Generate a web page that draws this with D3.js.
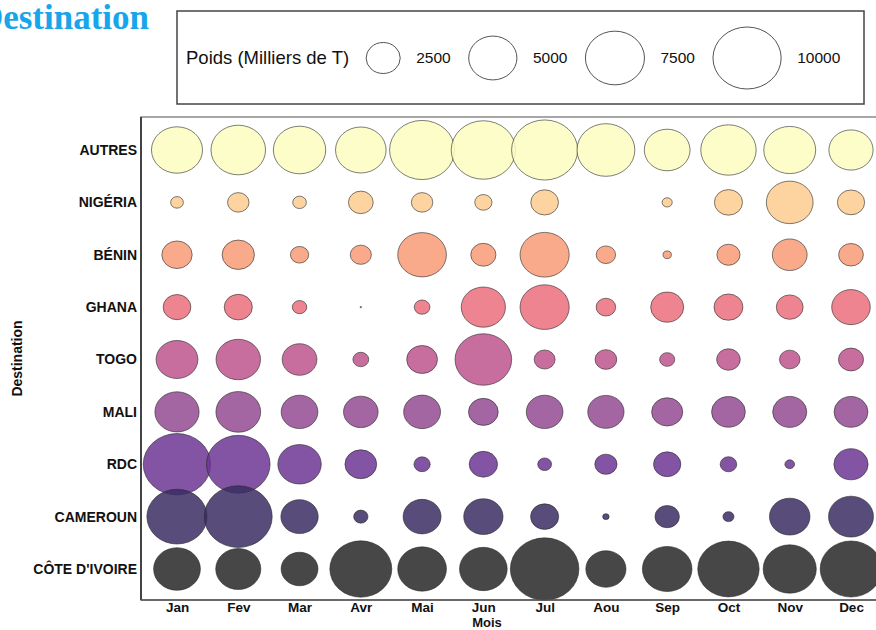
<!DOCTYPE html>
<html>
<head>
<meta charset="utf-8">
<script src="https://cdn.jsdelivr.net/npm/d3@7/dist/d3.min.js"></script>
<style>
  html, body { margin: 0; padding: 0; background: #fff; }
  svg { display: block; }
</style>
</head>
<body>
<div id="chart"></div>
<script>
// Monthly shipments (thousands of tonnes) by destination
const months = ["Jan", "Fev", "Mar", "Avr", "Mai", "Jun", "Jul", "Aou", "Sep", "Oct", "Nov", "Dec"];
const destinations = ["AUTRES", "NIGÉRIA", "BÉNIN", "GHANA", "TOGO", "MALI", "RDC", "CAMEROUN", "CÔTE D'IVOIRE"];

const autres   = [5600, 6400, 5900, 5500, 9100, 8900, 9400, 7200, 4500, 6600, 5800, 4200];
const nigeria  = [350, 990, 400, 1320, 990, 640, 1650, 0, 220, 1700, 4700, 1600];
const benin    = [1980, 2250, 720, 960, 5100, 1360, 5200, 810, 150, 1150, 2600, 1320];
const ghana    = [1650, 1700, 450, 5, 530, 4200, 5200, 820, 2350, 1800, 1550, 3200];
const togo     = [3760, 4260, 2600, 540, 2040, 6900, 940, 1010, 490, 1200, 910, 1360];
const mali     = [4200, 4300, 2900, 2570, 2920, 1900, 2890, 2830, 2080, 2450, 2500, 2470];
const rdc      = [9800, 8700, 4060, 2170, 570, 1730, 410, 1060, 1600, 590, 200, 2520];
const cameroun = [7800, 9900, 3000, 440, 3100, 3320, 1700, 90, 1280, 260, 3530, 4340];
const civ      = [4700, 4370, 2920, 8250, 5100, 4880, 10100, 3470, 5290, 8100, 6070, 8160];

const seriesByDest = [autres, nigeria, benin, ghana, togo, mali, rdc, cameroun, civ];

// One colour per destination (magma-like ramp)
const destColors = ["#fcfdbf", "#fdcb8f", "#f89b76", "#ec6f7e", "#be558e", "#934b93", "#6c3693", "#3a2d63", "#272727"];

const legendValues = [2500, 5000, 7500, 10000];
const legendTitle = "Poids (Milliers de T)";

const W = 876, H = 630;
const svg = d3.select("#chart").append("svg")
  .attr("width", W).attr("height", H)
  .attr("font-family", "Liberation Sans, Arial, sans-serif");

svg.append("rect").attr("width", W).attr("height", H).attr("fill", "#fff");

// Panel geometry
const panel = { left: 141, top: 117, right: 880, bottom: 600 };

const x = d3.scalePoint().domain(months).range([177, 851]);
const y = d3.scalePoint().domain(destinations).range([150, 569]);
const r = d3.scaleSqrt().domain([0, 10000]).range([0, 31]);
const stretch = 1.1; // horizontal aspect of the bubbles
const color = d3.scaleOrdinal().domain(destinations).range(destColors);

// Flatten into records
const records = [];
destinations.forEach((dest, i) => {
  seriesByDest[i].forEach((v, j) => {
    records.push({ dest, month: months[j], value: v });
  });
});

// Title
svg.append("text")
  .attr("x", 149).attr("y", 29)
  .attr("text-anchor", "end")
  .attr("font-family", "Liberation Serif, Times New Roman, serif")
  .attr("font-weight", "bold")
  .attr("font-size", 35)
  .attr("fill", "#17a6ea")
  .text("Destination");

// Panel frame
svg.append("rect")
  .attr("x", panel.left).attr("y", panel.top)
  .attr("width", panel.right - panel.left).attr("height", panel.bottom - panel.top)
  .attr("fill", "none").attr("stroke", "#8a8a8a").attr("stroke-width", 1.5);

// Bubbles
svg.append("g").selectAll("ellipse")
  .data(records.filter(d => d.value > 0))
  .join("ellipse")
  .attr("cx", d => x(d.month))
  .attr("cy", d => y(d.dest))
  .attr("rx", d => r(d.value) * stretch)
  .attr("ry", d => r(d.value))
  .attr("fill", d => color(d.dest))
  .attr("fill-opacity", 0.85)
  .attr("stroke", "#2a2a2a")
  .attr("stroke-opacity", 0.6)
  .attr("stroke-width", 1);

// Axis lines (left and bottom)
svg.append("line")
  .attr("x1", panel.left).attr("x2", panel.left)
  .attr("y1", panel.top).attr("y2", panel.bottom)
  .attr("stroke", "#222").attr("stroke-width", 1.5);
svg.append("line")
  .attr("x1", panel.left).attr("x2", panel.right)
  .attr("y1", panel.bottom).attr("y2", panel.bottom)
  .attr("stroke", "#555").attr("stroke-width", 1.5);

// Axes via d3 (no tick marks, only labels)
const yAxis = svg.append("g")
  .attr("transform", `translate(${panel.left - 2},0)`)
  .call(d3.axisLeft(y).tickSize(0).tickPadding(2));
yAxis.select(".domain").remove();
yAxis.selectAll("text")
  .attr("font-family", "Liberation Sans, Arial, sans-serif")
  .attr("font-size", 14).attr("font-weight", "bold").attr("fill", "#111");

const xAxis = svg.append("g")
  .attr("transform", `translate(0,${panel.bottom})`)
  .call(d3.axisBottom(x).tickSize(0).tickPadding(2));
xAxis.select(".domain").remove();
xAxis.selectAll("text")
  .attr("font-family", "Liberation Sans, Arial, sans-serif")
  .attr("font-size", 13.5).attr("font-weight", "bold").attr("fill", "#111");

// Axis titles
svg.append("text")
  .attr("x", 487).attr("y", 626.5)
  .attr("text-anchor", "middle")
  .attr("font-size", 13).attr("font-weight", "bold").attr("fill", "#111")
  .text("Mois");

svg.append("text")
  .attr("transform", `translate(22,${(panel.top + panel.bottom) / 2}) rotate(-90)`)
  .attr("text-anchor", "middle")
  .attr("font-size", 14).attr("font-weight", "bold").attr("fill", "#111")
  .text("Destination");

// Size legend
const legend = svg.append("g");
legend.append("rect")
  .attr("x", 177).attr("y", 11).attr("width", 687).attr("height", 93)
  .attr("fill", "#fff").attr("stroke", "#444").attr("stroke-width", 1.5);

const legendY = 58;
let cursor = 186;
const t = legend.append("text")
  .attr("x", cursor).attr("y", legendY).attr("dy", "0.35em")
  .attr("font-size", 18.5).attr("fill", "#111")
  .text(legendTitle);
cursor += t.node().getComputedTextLength() + 17;

legendValues.forEach(v => {
  const rx = r(v) * stretch;
  legend.append("ellipse")
    .attr("cx", cursor + rx).attr("cy", legendY)
    .attr("rx", rx).attr("ry", r(v))
    .attr("fill", "none").attr("stroke", "#555").attr("stroke-width", 1);
  cursor += 2 * rx + 16;
  const lt = legend.append("text")
    .attr("x", cursor).attr("y", legendY).attr("dy", "0.35em")
    .attr("font-size", 15.5).attr("fill", "#111")
    .text(v);
  cursor += lt.node().getComputedTextLength() + 18;
});
</script>
</body>
</html>
